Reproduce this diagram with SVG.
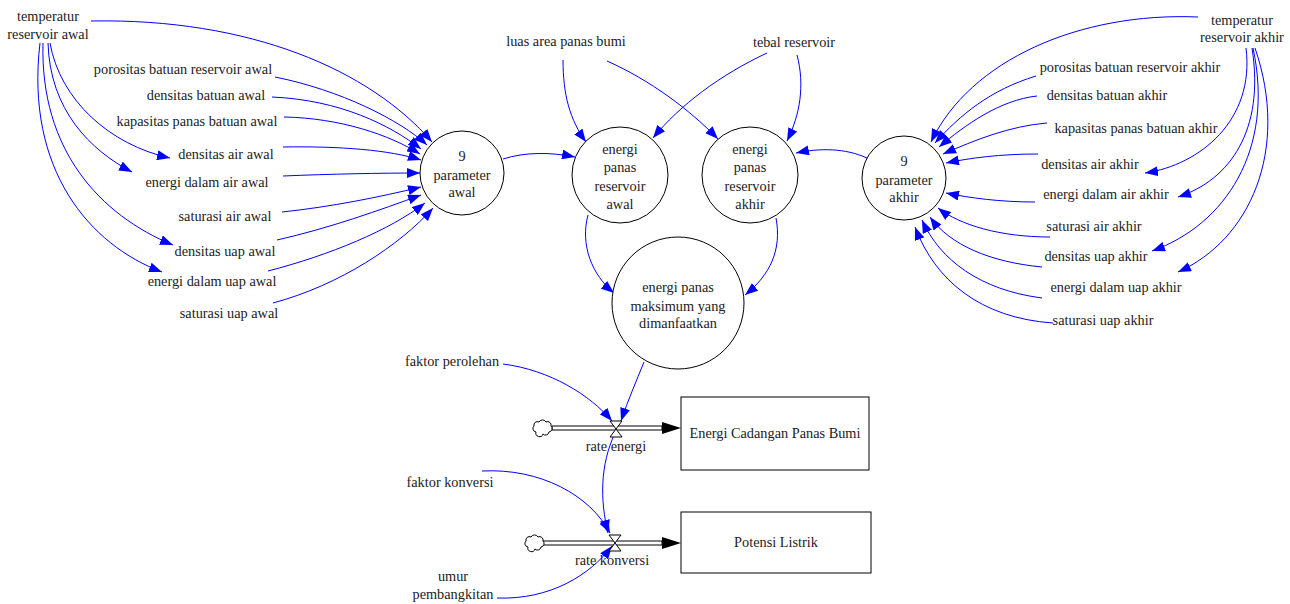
<svg xmlns="http://www.w3.org/2000/svg" width="1290" height="604" viewBox="0 0 1290 604">
<style>
text{font-family:"Liberation Serif","Times New Roman",serif;font-size:14.3px;fill:#222;text-anchor:middle}
.c{fill:#fff;stroke:#000;stroke-width:1}
.l{fill:none;stroke:#00f;stroke-width:1;marker-end:url(#a)}
.p{fill:#fff;stroke:#000;stroke-width:1}
</style>
<defs>
<marker id="a" markerUnits="userSpaceOnUse" markerWidth="14" markerHeight="10" refX="13" refY="5" orient="auto" viewBox="0 0 14 10">
<path d="M0,0 L13,5 L0,10 z" fill="#00f"/>
</marker>
</defs>
<rect width="1290" height="604" fill="#fff"/>
<g id="connectors">
<path class="l" d="M91,21 C250,18 370,70 432,142"/>
<path class="l" d="M275,77 C340,90 400,120 427,145"/>
<path class="l" d="M272,97 C340,100 390,125 421,149"/>
<path class="l" d="M284,117 C340,118 390,135 420,154"/>
<path class="l" d="M283,147 C340,146 390,150 421,160"/>
<path class="l" d="M283,176 C330,174 380,173 420,173"/>
<path class="l" d="M282,212 C330,207 380,197 421,187"/>
<path class="l" d="M277,240 C330,228 380,210 421,195"/>
<path class="l" d="M268,271 C330,255 390,230 425,203"/>
<path class="l" d="M273,303 C340,285 400,245 433,208"/>
<path class="l" d="M50,43 C60,100 110,145 170,158"/>
<path class="l" d="M48,43 C50,110 90,150 132,172"/>
<path class="l" d="M43,43 C40,150 100,215 173,245"/>
<path class="l" d="M40,43 C25,170 90,245 162,272"/>
<path class="l" d="M563,60 C563,95 570,120 586,142"/>
<path class="l" d="M607,61 C650,80 690,110 718,139"/>
<path class="l" d="M767,53 C720,75 680,105 653,138"/>
<path class="l" d="M797,55 C805,85 800,115 787,141"/>
<path class="l" d="M503,159 C525,152 550,152 575,157"/>
<path class="l" d="M867,158 C845,148 820,148 796,153"/>
<path class="l" d="M588,215 C580,245 592,275 614,293"/>
<path class="l" d="M776,218 C782,250 770,275 745,295"/>
<path class="l" d="M644,362 C636,382 628,400 621,421"/>
<path class="l" d="M1198,17 C1080,12 970,60 931,142"/>
<path class="l" d="M1036,76 C990,90 960,115 935,143"/>
<path class="l" d="M1037,96 C1000,100 965,125 939,147"/>
<path class="l" d="M1047,123 C1010,126 975,140 943,154"/>
<path class="l" d="M1038,154 C1000,154 970,158 946,163"/>
<path class="l" d="M1035,202 C1000,202 970,198 946,193"/>
<path class="l" d="M1050,237 C1000,237 960,225 938,208"/>
<path class="l" d="M1042,267 C990,262 950,245 930,217"/>
<path class="l" d="M1042,298 C980,290 940,260 922,220"/>
<path class="l" d="M1053,323 C980,318 935,280 915,227"/>
<path class="l" d="M1246,48 C1255,120 1200,165 1145,173"/>
<path class="l" d="M1252,48 C1265,130 1230,180 1178,197"/>
<path class="l" d="M1253,48 C1275,150 1225,225 1152,251"/>
<path class="l" d="M1255,48 C1290,150 1250,240 1178,272"/>
<path class="l" d="M503,364 C550,370 590,395 612,421"/>
<path class="l" d="M482,471 C540,468 590,495 610,533"/>
<path class="l" d="M615,433 C600,465 600,500 608,533"/>
<path class="l" d="M497,598 C550,600 590,575 612,546"/>
</g>
<g id="flow-rate-energi">
<path class="p" d="M552,426 H662 V430 H552 z"/>
<path d="M662,422 L681,428 L662,434 z" fill="#000"/>
<path class="p" d="M536,432 a3.5,3.5 0 0 1 -2,-6 a3.5,3.5 0 0 1 5,-4 a4,4 0 0 1 7,0 a3.5,3.5 0 0 1 5,4 a3.5,3.5 0 0 1 -2,6 a3.5,3.5 0 0 1 -6,2 a3.5,3.5 0 0 1 -7,-2 z"/>
<path class="p" d="M610,421 H622 L616,429 z M610,437 H622 L616,429 z"/>
<text x="616" y="451">rate energi</text>
</g>
<g id="flow-rate-konversi">
<path class="p" d="M543,541 H662 V545 H543 z"/>
<path d="M662,537 L681,543 L662,549 z" fill="#000"/>
<path class="p" d="M528,547 a3.5,3.5 0 0 1 -2,-6 a3.5,3.5 0 0 1 5,-4 a4,4 0 0 1 7,0 a3.5,3.5 0 0 1 5,4 a3.5,3.5 0 0 1 -2,6 a3.5,3.5 0 0 1 -6,2 a3.5,3.5 0 0 1 -7,-2 z"/>
<path class="p" d="M609,535 H621 L615,543 z M609,551 H621 L615,543 z"/>
<text x="612" y="565">rate konversi</text>
</g>
<g id="temperatur-reservoir-awal"><text x="48" y="21">temperatur</text><text x="48" y="39">reservoir awal</text></g>
<g id="porositas-awal"><text x="183" y="74">porositas batuan reservoir awal</text></g>
<g id="densitas-batuan-awal"><text x="206" y="100">densitas batuan awal</text></g>
<g id="kapasitas-awal"><text x="197" y="126">kapasitas panas batuan awal</text></g>
<g id="densitas-air-awal"><text x="226" y="159">densitas air awal</text></g>
<g id="energi-air-awal"><text x="207" y="187">energi dalam air awal</text></g>
<g id="saturasi-air-awal"><text x="225" y="221">saturasi air awal</text></g>
<g id="densitas-uap-awal"><text x="225" y="256">densitas uap awal</text></g>
<g id="energi-uap-awal"><text x="212" y="286">energi dalam uap awal</text></g>
<g id="saturasi-uap-awal"><text x="229" y="318">saturasi uap awal</text></g>
<g id="param-awal"><circle class="c" cx="462" cy="173" r="42"/><text x="462" y="161">9</text><text x="462" y="180">parameter</text><text x="462" y="197">awal</text></g>
<g id="luas-area"><text x="566" y="46">luas area panas bumi</text></g>
<g id="tebal-reservoir"><text x="794" y="47">tebal reservoir</text></g>
<g id="energi-awal"><circle class="c" cx="620" cy="175" r="48"/><text x="620" y="154">energi</text><text x="620" y="172">panas</text><text x="620" y="191">reservoir</text><text x="620" y="209">awal</text></g>
<g id="energi-akhir"><circle class="c" cx="750" cy="175" r="48"/><text x="750" y="154">energi</text><text x="750" y="172">panas</text><text x="750" y="191">reservoir</text><text x="750" y="209">akhir</text></g>
<g id="energi-maksimum"><circle class="c" cx="678" cy="303" r="66"/><text x="678" y="292">energi panas</text><text x="678" y="311">maksimum yang</text><text x="678" y="328">dimanfaatkan</text></g>
<g id="param-akhir"><circle class="c" cx="904" cy="178" r="42"/><text x="904" y="166">9</text><text x="904" y="185">parameter</text><text x="904" y="202">akhir</text></g>
<g id="temperatur-reservoir-akhir"><text x="1242" y="25">temperatur</text><text x="1242" y="42">reservoir akhir</text></g>
<g id="porositas-akhir"><text x="1130" y="72">porositas batuan reservoir akhir</text></g>
<g id="densitas-batuan-akhir"><text x="1107" y="100">densitas batuan akhir</text></g>
<g id="kapasitas-akhir"><text x="1136" y="133">kapasitas panas batuan akhir</text></g>
<g id="densitas-air-akhir"><text x="1090" y="169">densitas air akhir</text></g>
<g id="energi-air-akhir"><text x="1106" y="199">energi dalam air akhir</text></g>
<g id="saturasi-air-akhir"><text x="1094" y="231">saturasi air akhir</text></g>
<g id="densitas-uap-akhir"><text x="1096" y="261">densitas uap akhir</text></g>
<g id="energi-uap-akhir"><text x="1116" y="292">energi dalam uap akhir</text></g>
<g id="saturasi-uap-akhir"><text x="1103" y="325">saturasi uap akhir</text></g>
<g id="faktor-perolehan"><text x="452" y="366">faktor perolehan</text></g>
<g id="faktor-konversi"><text x="450" y="487">faktor konversi</text></g>
<g id="umur-pembangkitan"><text x="453" y="581">umur</text><text x="453" y="599">pembangkitan</text></g>
<g id="energi-cadangan"><rect class="c" x="681" y="397" width="188" height="73"/><text x="775" y="438">Energi Cadangan Panas Bumi</text></g>
<g id="potensi-listrik"><rect class="c" x="681" y="512" width="190" height="61"/><text x="776" y="547">Potensi Listrik</text></g>
</svg>
